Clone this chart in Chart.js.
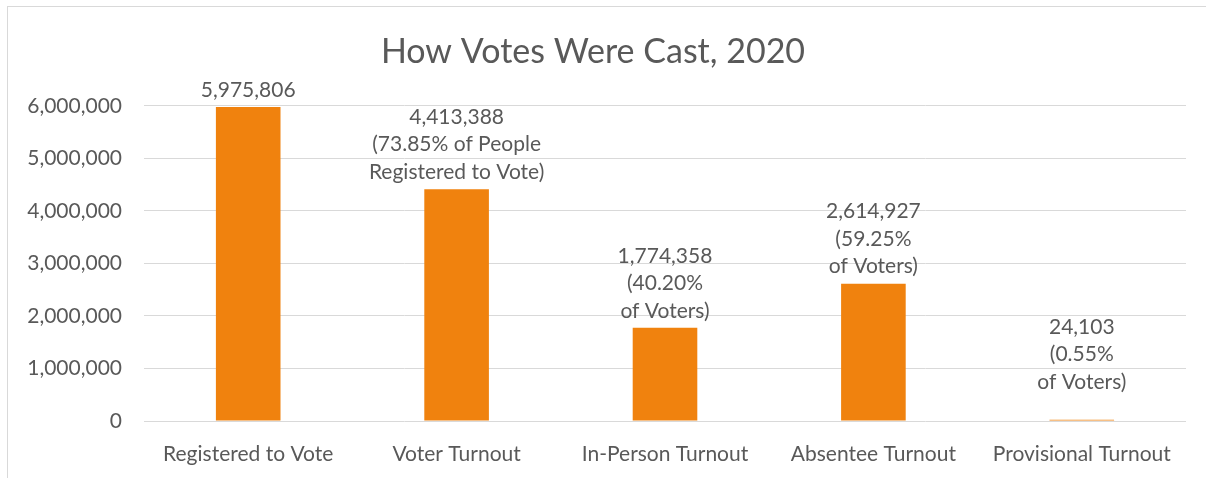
<!DOCTYPE html>
<html>
<head>
<meta charset="utf-8">
<script src="https://cdn.jsdelivr.net/npm/chart.js@4"></script>
<style>
  html, body { margin: 0; padding: 0; background: #fff; }
  #wrap { width: 1206px; height: 478px; position: relative; }
</style>
</head>
<body>
<div id="wrap"><canvas id="votesChart"></canvas></div>
<script>
const barColor = '#F0820E';
const textColor = '#595959';
const gridColor = '#D9D9D9';

// data
const categories = ['Registered to Vote', 'Voter Turnout', 'In-Person Turnout', 'Absentee Turnout', 'Provisional Turnout'];
const votes = [5975806, 4413388, 1774358, 2614927, 24103];
const barLabels = [
  ['5,975,806'],
  ['4,413,388', '(73.85% of People', 'Registered to Vote)'],
  ['1,774,358', '(40.20%', 'of Voters)'],
  ['2,614,927', '(59.25%', 'of Voters)'],
  ['24,103', '(0.55%', 'of Voters)']
];
const yTicks = [0, 1000000, 2000000, 3000000, 4000000, 5000000, 6000000];

const fontFamily = 'Lato, "Open Sans", sans-serif';

// frame around the chart
const framePlugin = {
  id: 'frame',
  beforeDraw(chart) {
    const ctx = chart.ctx;
    ctx.save();
    ctx.strokeStyle = gridColor;
    ctx.lineWidth = 1;
    ctx.strokeRect(7.5, 6.5, 1210, 490);
    ctx.restore();
  }
};

// multi-line labels above bars
const barLabelPlugin = {
  id: 'barLabels',
  afterDatasetsDraw(chart) {
    const ctx = chart.ctx;
    const meta = chart.getDatasetMeta(0);
    ctx.save();
    ctx.font = '21px ' + fontFamily;
    ctx.fillStyle = textColor;
    ctx.textAlign = 'center';
    ctx.textBaseline = 'middle';
    meta.data.forEach((bar, i) => {
      const lines = barLabels[i];
      const lineH = 27.5;
      // tiny bars: keep the label clear of the axis like Excel does
      let y = Math.min(bar.y - 17, chart.chartArea.bottom - 39);
      for (let k = lines.length - 1; k >= 0; k--) {
        ctx.fillText(lines[k], bar.x, y);
        y -= lineH;
      }
    });
    ctx.restore();
  }
};

new Chart(document.getElementById('votesChart'), {
  type: 'bar',
  data: {
    labels: categories,
    datasets: [{
      label: 'Votes',
      data: votes,
      backgroundColor: barColor,
      barPercentage: 0.31,
      categoryPercentage: 1.0
    }]
  },
  options: {
    responsive: true,
    maintainAspectRatio: false,
    animation: false,
    layout: { padding: { left: 0, right: 20, top: 0, bottom: 0 } },
    plugins: {
      legend: { display: false },
      tooltip: { enabled: false },
      title: {
        display: true,
        text: 'How Votes Were Cast, 2020',
        color: textColor,
        font: { family: fontFamily, size: 34, weight: 'normal' },
        padding: { top: 32, bottom: 33 }
      }
    },
    scales: {
      x: {
        grid: { display: false },
        border: { display: false },
        ticks: {
          color: textColor,
          font: { family: fontFamily, size: 21 },
          padding: 13,
          maxRotation: 0
        },
        afterFit(scale) { scale.height = 57; }
      },
      y: {
        min: 0,
        max: 6000000,
        afterBuildTicks(scale) { scale.ticks = yTicks.map(v => ({ value: v })); },
        grid: { color: gridColor, drawTicks: false },
        border: { display: false },
        ticks: {
          color: textColor,
          font: { family: fontFamily, size: 21 },
          padding: 22,
          callback: v => v.toLocaleString('en-US')
        },
        afterFit(scale) { scale.width = 144; }
      }
    }
  },
  plugins: [framePlugin, barLabelPlugin]
});
</script>
</body>
</html>
